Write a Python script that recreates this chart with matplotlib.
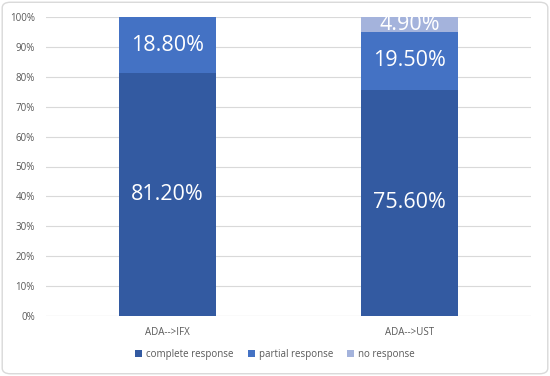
import matplotlib.pyplot as plt
from matplotlib.patches import FancyBboxPatch

groups = ["ADA-->IFX", "ADA-->UST"]
complete = [81.2, 75.6]
partial = [18.8, 19.5]
no_resp = [0.0, 4.9]
yticks = list(range(0, 101, 10))

c_dark = "#335aa1"
c_mid = "#4472c4"
c_light = "#a4b3dc"

plt.rcParams['font.family'] = ['Open Sans', 'DejaVu Sans']

fig = plt.figure(figsize=(5.5, 3.76), dpi=100)
ax = fig.add_axes([46 / 550, 60 / 376, 485 / 550, 299 / 376])

x = [0, 1]
w = 0.4
ax.bar(x, complete, w, color=c_dark, label="complete response", zorder=3)
ax.bar(x, partial, w, bottom=complete, color=c_mid, label="partial response", zorder=3)
bottom3 = [c + p for c, p in zip(complete, partial)]
ax.bar(x, no_resp, w, bottom=bottom3, color=c_light, label="no response", zorder=3)

# value labels in the middle of each segment
for i in x:
    ax.text(i, complete[i] / 2, f"{complete[i]:.2f}%", ha="center", va="center",
            color="white", fontsize=15.5, zorder=4)
    ax.text(i, complete[i] + partial[i] / 2, f"{partial[i]:.2f}%", ha="center", va="center",
            color="white", fontsize=15.5, zorder=4)
    if no_resp[i] > 0:
        ax.text(i, bottom3[i] + no_resp[i] / 2, f"{no_resp[i]:.2f}%", ha="center", va="center",
                color="white", fontsize=15.5, zorder=4)

ax.set_xlim(-0.5, 1.5)
ax.set_ylim(0, 100)
ax.set_yticks(yticks)
ax.set_yticklabels([f"{t}%" for t in yticks], fontsize=7, color="#595959")
ax.set_xticks(x)
ax.set_xticklabels(groups, fontsize=7, color="#595959")
ax.tick_params(axis="x", length=0, pad=8)
ax.tick_params(axis="y", length=0, pad=8)
ax.grid(axis="y", color="#d9d9d9", linewidth=0.8, zorder=0)
for s in ax.spines.values():
    s.set_visible(False)
ax.axhline(0, color="#d9d9d9", linewidth=0.8, zorder=1)

fig.legend(loc="lower center", bbox_to_anchor=(0.5, 0.02), ncol=3, frameon=False,
           fontsize=7, handlelength=0.7, handleheight=0.7, handletextpad=0.4,
           columnspacing=1.5, labelcolor="#595959")

border = FancyBboxPatch((0.004, 0.006), 0.992, 0.988, boxstyle="round,pad=0,rounding_size=0.015",
                        transform=fig.transFigure, fill=False, edgecolor="#d9d9d9", linewidth=1)
fig.patches.append(border)

fig.savefig("out.png", dpi=100)
